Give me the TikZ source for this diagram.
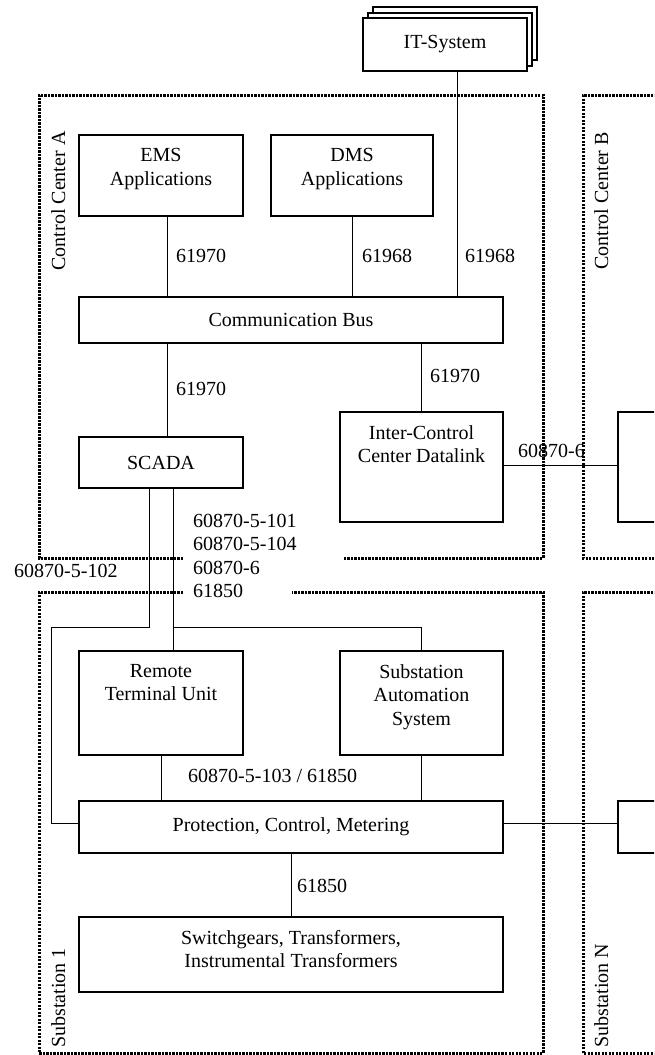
\documentclass[tikz,border=0pt]{standalone}
\usepackage{fontspec}
\setmainfont{Liberation Serif}
\usepackage{tikz}

\begin{document}
\begin{tikzpicture}[x=1pt, y=-1pt, font=\fontsize{20}{23.5}\selectfont,
  bx/.style={draw, line width=1.7pt, fill=white, inner sep=0pt},
  toptext/.style={label={[anchor=north, align=center, inner sep=0pt, yshift=-14pt]north:{#1}}},
  ln/.style={line width=1pt},
  zone/.style={line width=3pt, dash pattern=on 2.4pt off 1.1pt},
  zonelbl/.style={rotate=90, inner sep=0pt},
  num/.style={anchor=base west, inner sep=0pt}]
\useasboundingbox (0,0) rectangle (654,1055);
\clip (0,0) rectangle (654,1055);
\draw[zone] (183,558) -- (39,558) -- (39,95) -- (543,95) -- (543,558) -- (343,558);
\draw[zone] (660,95) -- (583,95) -- (583,558) -- (660,558);
\draw[zone] (183,592) -- (39,592) -- (39,1053) -- (543,1053) -- (543,592) -- (292,592);
\draw[zone] (660,592) -- (583,592) -- (583,1053) -- (660,1053);
\node[zonelbl, anchor=base] (A) at (65,201) {Control Center A};
\node[zonelbl, anchor=base] (B) at (608,201) {Control Center B};
\node[zonelbl, anchor=base west] (S1) at (65,1048) {Substation 1};
\node[zonelbl, anchor=base west] (SN) at (608,1048) {Substation N};
\node[bx, minimum width=164pt, minimum height=53pt] (IT3) at (455,33.5) {};
\node[bx, minimum width=164pt, minimum height=53pt] (IT2) at (450,39.5) {};
\node[bx, minimum width=164pt, minimum height=53pt] (IT) at (445,44.5) {IT-System};
\node[bx, minimum width=164pt, minimum height=81pt, toptext={EMS\\Applications}] (EMS) at (161,175.5) {};
\node[bx, minimum width=162pt, minimum height=81pt, toptext={DMS\\Applications}] (DMS) at (352,175.5) {};
\node[bx, minimum width=424pt, minimum height=46pt] (bus) at (291,320) {Communication Bus};
\node[bx, minimum width=164pt, minimum height=51pt] (SCADA) at (161,462.5) {SCADA};
\node[bx, minimum width=163pt, minimum height=110pt, toptext={Inter-Control\\Center Datalink}] (ICCD) at (421.5,467) {};
\node[bx, minimum width=164pt, minimum height=110pt] (ccB) at (700,467) {};
\node[bx, minimum width=164pt, minimum height=104pt, toptext={Remote\\Terminal Unit}] (RTU) at (161,703) {};
\node[bx, minimum width=163pt, minimum height=104pt, toptext={Substation\\Automation\\System}] (SAS) at (421.5,703) {};
\node[bx, minimum width=424pt, minimum height=52pt] (PCM) at (291,827) {Protection, Control, Metering};
\node[bx, minimum width=164pt, minimum height=52pt] (subN) at (700,827) {};
\node[bx, minimum width=424pt, minimum height=75pt, toptext={Switchgears, Transformers,\\Instrumental Transformers}] (SW) at (291,954.5) {};
\coordinate (split) at (173,627);
\coordinate (turn) at (51,627);
\draw[ln] ([xshift=12pt]IT.south) -- ([xshift=12pt]IT.south |- bus.north);
\draw[ln] ([xshift=6pt]EMS.south) -- ([xshift=6pt]EMS.south |- bus.north);
\draw[ln] (DMS.south) -- (DMS.south |- bus.north);
\draw[ln] ([xshift=6pt]SCADA.north |- bus.south) -- ([xshift=6pt]SCADA.north);
\draw[ln] (ICCD.north |- bus.south) -- (ICCD.north);
\draw[ln] ([yshift=2pt]ICCD.east) -- ([yshift=2pt]ICCD.east -| ccB.west);
\draw[ln] ([xshift=-12pt]SCADA.south) |- (turn) |- ([yshift=4pt]PCM.west);
\draw[ln] ([xshift=12pt]SCADA.south) -- ([xshift=12pt]RTU.north);
\draw[ln] (split) -| (SAS.north);
\draw[ln] (RTU.south) -- (RTU.south |- PCM.north);
\draw[ln] (SAS.south) -- (SAS.south |- PCM.north);
\draw[ln] ([yshift=4pt]PCM.east) -- ([yshift=4pt]PCM.east -| subN.west);
\draw[ln] (PCM.south) -- (PCM.south |- SW.north);
\node[num] (n1) at (176,262) {61970};
\node[num] (n2) at (362,262) {61968};
\node[num] (n3) at (465,262) {61968};
\node[num] (n4) at (176,395) {61970};
\node[num] (n5) at (430,382) {61970};
\node[num] (n6) at (518,457) {60870-6};
\node[num, anchor=north west, align=left] (n7) at (193,513.5) {60870-5-101\\60870-5-104\\60870-6\\61850};
\node[num] (n8) at (14,577) {60870-5-102};
\node[num] (n9) at (188,782) {60870-5-103 / 61850};
\node[num] (n10) at (297,892) {61850};
\end{tikzpicture}
\end{document}
